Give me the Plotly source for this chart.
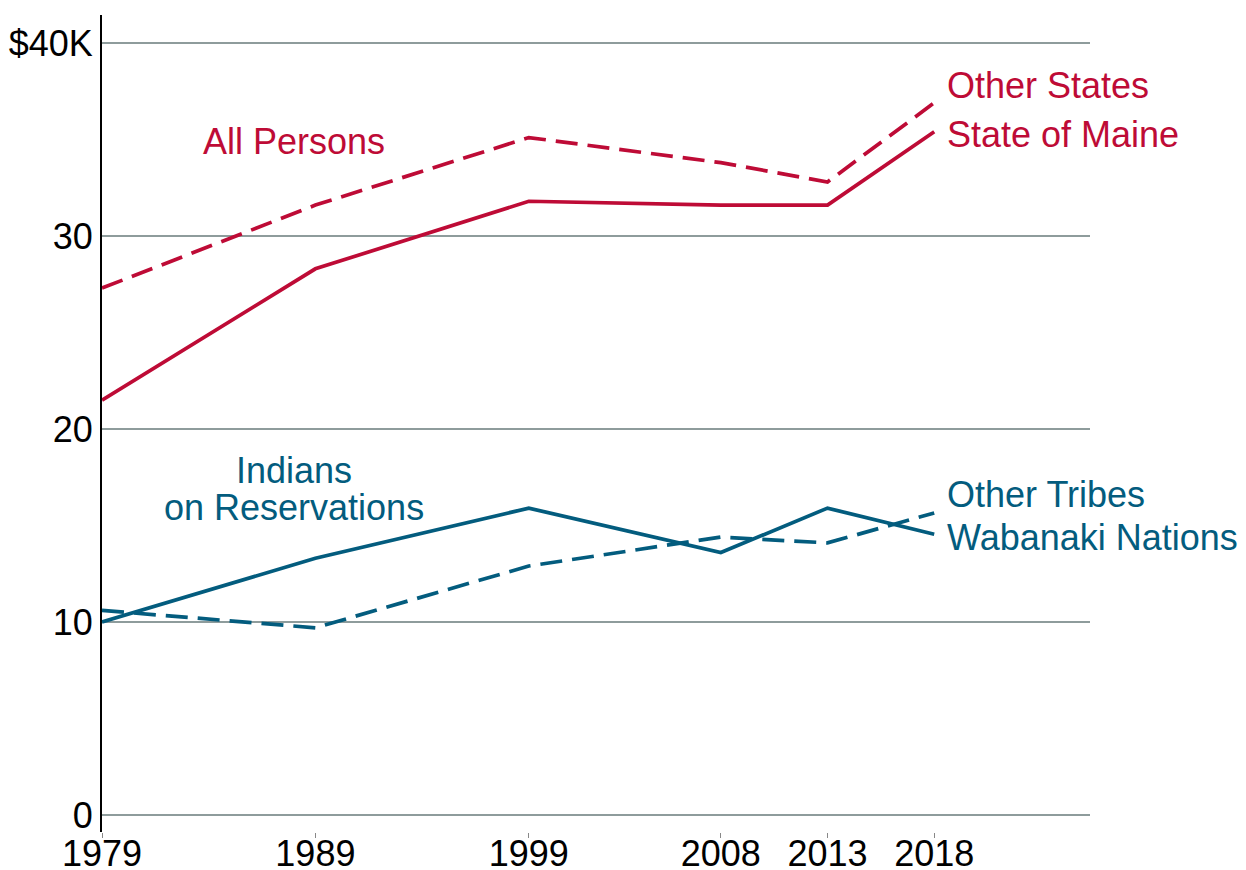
import plotly.graph_objects as go

years = [1979, 1989, 1999, 2008, 2013, 2018]
other_states = [27.3, 31.6, 35.1, 33.8, 32.8, 36.9]
state_of_maine = [21.5, 28.3, 31.8, 31.6, 31.6, 35.4]
wabanaki = [10.0, 13.3, 15.9, 13.6, 15.9, 14.55]
other_tribes = [10.6, 9.7, 12.9, 14.4, 14.1, 15.65]

y_ticks = [0, 10, 20, 30, 40]
y_tick_labels = ["0", "10", "20", "30", "$40K"]

RED = "#BE0B36"
BLUE = "#035C7E"
FONT = "Liberation Sans, Arial, sans-serif"

fig = go.Figure()

fig.add_trace(go.Scatter(x=years, y=other_states, mode="lines",
                         line=dict(color=RED, width=3.7, dash="22px,10px")))
fig.add_trace(go.Scatter(x=years, y=state_of_maine, mode="lines",
                         line=dict(color=RED, width=3.7)))
fig.add_trace(go.Scatter(x=years, y=other_tribes, mode="lines",
                         line=dict(color=BLUE, width=3.7, dash="22px,10px")))
fig.add_trace(go.Scatter(x=years, y=wabanaki, mode="lines",
                         line=dict(color=BLUE, width=3.7)))

# two-line label split so its line spacing stays tight
labels = [
    ("All Persons", 1988.0, 34.9, "center", RED),
    ("Other States", 2018.5, 37.8, "left", RED),
    ("State of Maine", 2018.5, 35.25, "left", RED),
    ("Indians", 1988.0, 17.85, "center", BLUE),
    ("on Reservations", 1988.0, 15.93, "center", BLUE),
    ("Other Tribes", 2018.5, 16.6, "left", BLUE),
    ("Wabanaki Nations", 2018.5, 14.4, "left", BLUE),
]
for text, x, y, align, color in labels:
    fig.add_annotation(x=x, y=y, text=text, showarrow=False,
                       xanchor=align, yanchor="middle", align=align,
                       font=dict(family=FONT, size=36, color=color))

# page body has an 8px margin, so the figure is sized and placed to fit the window
fig.update_layout(
    width=1238, height=862,
    margin=dict(l=94, r=156, t=7, b=38),
    paper_bgcolor="white", plot_bgcolor="white",
    showlegend=False,
    font=dict(family=FONT, size=36, color="black"),
)
fig.update_xaxes(
    range=[1979, 2025.3], tickvals=years, ticktext=[str(y) for y in years],
    showgrid=False, zeroline=False, showline=False,
    ticks="outside", ticklen=5, tickcolor="#888888", tickwidth=1,
    ticklabelstandoff=-15, automargin=False,
)
fig.update_yaxes(
    range=[-0.88, 41.45], tickvals=y_ticks, ticktext=y_tick_labels,
    showgrid=True, gridcolor="#8E9C9C", gridwidth=1.5,
    zeroline=False, showline=True, linecolor="black", linewidth=2,
    ticks="", ticklabelstandoff=0, automargin=False,
)

fig.write_html("out.html")
